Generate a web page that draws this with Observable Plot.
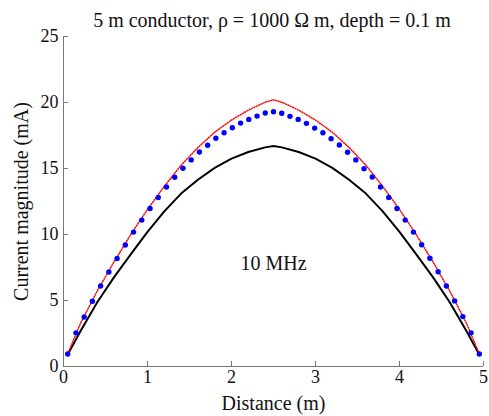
<!DOCTYPE html>
<html><head><meta charset="utf-8">
<script src="https://cdn.jsdelivr.net/npm/d3@7"></script>
<script src="https://cdn.jsdelivr.net/npm/@observablehq/plot@0.6"></script>
<style>
body{margin:0;background:#fff;font-family:"Liberation Serif","Times New Roman",Times,Tinos,"Noto Serif","DejaVu Serif",FreeSerif,"Nimbus Roman",serif;}
#title{height:30px;width:489px;position:relative;}
#title span{position:absolute;left:272px;top:10px;transform:translateX(-50%);font-size:20px;line-height:20px;white-space:nowrap;color:#111;}
</style></head>
<body>
<div id="title"><span>5 m conductor, ρ = 1000 Ω m, depth = 0.1 m</span></div>
<div id="chart"></div>
<script>
// Blue dotted series (sample positions along the conductor, m)
const dotDistance = [0.05,0.148,0.246,0.344,0.442,0.54,0.638,0.736,0.834,0.932,1.03,1.128,1.226,1.324,1.422,1.52,1.618,1.716,1.814,1.912,2.01,2.108,2.206,2.304,2.402,2.5,2.598,2.696,2.794,2.892,2.99,3.088,3.186,3.284,3.382,3.48,3.578,3.676,3.774,3.872,3.97,4.068,4.166,4.264,4.362,4.46,4.558,4.656,4.754,4.852,4.95];
const dotCurrent = [0.95,2.55,3.75,4.94,6.1,7.16,8.19,9.2,10.18,11.09,11.97,12.8,13.6,14.34,15.02,15.65,16.25,16.76,17.29,17.71,18.09,18.44,18.72,18.97,19.2,19.3,19.18,18.95,18.72,18.42,18.06,17.71,17.26,16.78,16.23,15.65,14.99,14.36,13.6,12.8,11.97,11.09,10.18,9.22,8.2,7.18,6.1,4.97,3.78,2.55,0.95];

// Line series
const lineDistance = [0.05,0.2,0.4,0.6,0.8,1.0,1.2,1.4,1.6,1.8,2.0,2.2,2.4,2.5,2.6,2.8,3.0,3.2,3.4,3.6,3.8,4.0,4.2,4.4,4.6,4.8,4.95];
const redCurrent = [0.95,3.24,5.70,7.91,9.99,11.90,13.65,15.25,16.59,17.75,18.67,19.42,20.02,20.2,20.02,19.42,18.67,17.75,16.59,15.25,13.65,11.90,9.99,7.91,5.70,3.24,0.95];
const blackCurrent = [0.9,2.65,4.85,6.75,8.5,10.2,11.75,13.1,14.15,15.05,15.75,16.25,16.6,16.7,16.6,16.25,15.75,15.05,14.15,13.1,11.75,10.2,8.5,6.75,4.85,2.65,0.9];

// Ticks
const xTicks = [0,1,2,3,4,5];
const yTicks = [0,5,10,15,20,25];

// Annotation
const noteX = [2.5];
const noteY = [7.8];
const noteText = ["10 MHz"];

const dots = dotDistance.map((d,i)=>({d, c: dotCurrent[i]}));
const lines = lineDistance.map((d,i)=>({d, red: redCurrent[i], black: blackCurrent[i]}));
const notes = noteX.map((x,i)=>({x, y: noteY[i], t: noteText[i]}));

const serif = "'Liberation Serif','Times New Roman',Times,Tinos,'Noto Serif','DejaVu Serif',FreeSerif,'Nimbus Roman',serif";
const axisGray = "#777";
const chart = Plot.plot({
  width: 489,
  height: 386,
  marginLeft: 63,
  marginRight: 6,
  marginTop: 6,
  marginBottom: 50,
  style: {fontFamily: serif, color: "#111", background: "#fff", overflow: "visible"},
  x: {domain: [0,5]},
  y: {domain: [0,25]},
  marks: [
    Plot.ruleX([0], {stroke: axisGray}),
    Plot.ruleY([0], {stroke: axisGray}),
    Plot.axisX({ticks: xTicks, tickFormat: d => String(d), tickSize: -5, tickPadding: 9, stroke: axisGray, fill: "#111", fontSize: 18, fontFamily: serif, label: null}),
    Plot.axisY({ticks: yTicks, tickFormat: d => String(d), tickSize: -5, tickPadding: 10, stroke: axisGray, fill: "#111", fontSize: 18, fontFamily: serif, label: null}),
    Plot.axisX({ticks: [], label: "Distance (m)", labelAnchor: "center", labelArrow: "none", labelOffset: 43, fontSize: 20, fontFamily: serif, fill: "#111"}),
    Plot.axisY({ticks: [], label: "Current magnitude (mA)", labelAnchor: "center", labelArrow: "none", labelOffset: 50, fontSize: 20, fontFamily: serif, fill: "#111"}),
    Plot.line(lines, {x: "d", y: "black", stroke: "black", strokeWidth: 2}),
    Plot.line(lines, {x: "d", y: "red", stroke: "#ff0000", strokeWidth: 1.5, strokeDasharray: "1,1.6"}),
    Plot.dot(dots, {x: "d", y: "c", r: 2.7, fill: "#0000ff", stroke: "none"}),
    Plot.text(notes, {x: "x", y: "y", text: "t", fontSize: 20, fontFamily: serif, fill: "#111"})
  ]
});
document.getElementById("chart").appendChild(chart);
</script>
</body></html>
